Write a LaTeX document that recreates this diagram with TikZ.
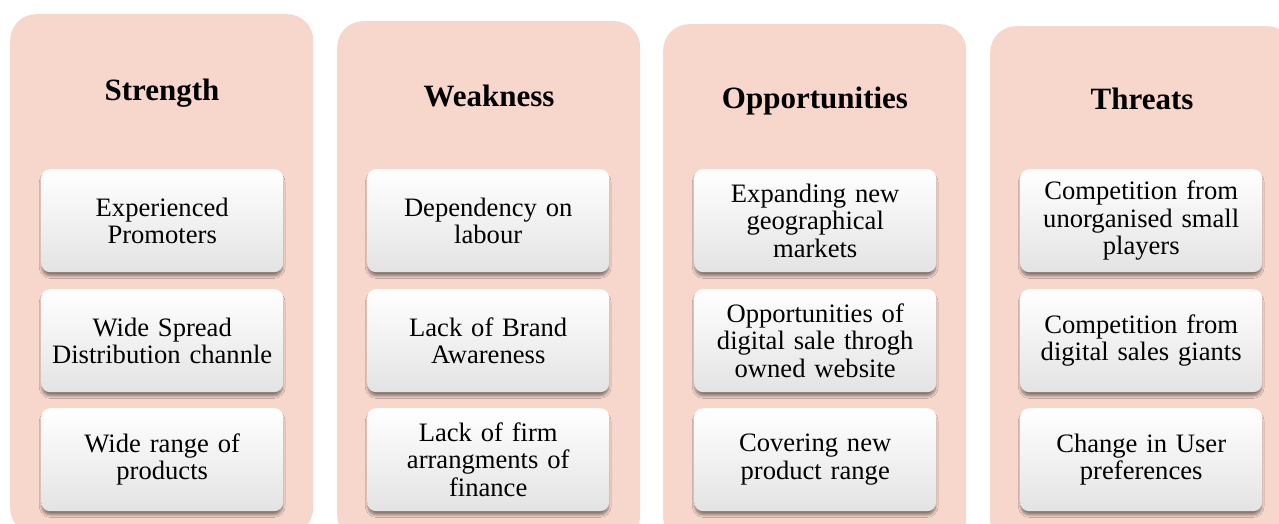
\documentclass[tikz,border=0pt]{standalone}
\usepackage{fontspec}
\setmainfont{Liberation Serif}
\usetikzlibrary{shadows.blur}
\definecolor{panelpink}{HTML}{F7D6CC}
\tikzset{
  x=1pt, y=-1pt,
  panel/.style={fill=panelpink, rounded corners=26pt, draw=none,
    minimum width=303pt, minimum height=520pt, anchor=north west, inner sep=0pt},
  ttl/.style={anchor=base, inner sep=0pt, font=\fontsize{31}{36}\selectfont\bfseries},
  itembox/.style={rounded corners=9pt, minimum width=242pt, minimum height=103pt,
    anchor=north west, inner sep=2pt, align=center, text width=236pt,
    top color=white, middle color=white, bottom color=black!11,
    blur shadow={shadow xshift=0pt, shadow yshift=-4pt, shadow blur radius=2.5pt, shadow opacity=45, shadow blur steps=8, shadow scale=0.995},
    font=\fontsize{26.6}{27.5}\selectfont},
}
\begin{document}
\begin{tikzpicture}
\useasboundingbox (0,0) rectangle (1279,524);
\clip (0,0) rectangle (1279,524);
\fill[white] (0,0) rectangle (1279,524);
% panels
\node[panel] (p1) at (10,14) {};
\node[panel] (p2) at (337,21) {};
\node[panel] (p3) at (663,24) {};
\node[panel] (p4) at (990,26) {};
% titles
\node[ttl] (t1) at (162,101) {Strength};
\node[ttl] (t2) at (489,107) {Weakness};
\node[ttl] (t3) at (815,109) {Opportunities};
\node[ttl] (t4) at (1142,110) {Threats};
% column 1
\node[itembox] (s1) at (41,169) {Experienced\\Promoters};
\node[itembox] (s2) at (41,289) {Wide Spread\\Distribution channle};
\node[itembox] (s3) at (41,408) {Wide range of\\products};
% column 2
\node[itembox] (w1) at (367,169) {Dependency on\\labour};
\node[itembox] (w2) at (367,289) {Lack of Brand\\Awareness};
\node[itembox] (w3) at (367,408) {Lack of firm\\arrangments of\\finance};
% column 3
\node[itembox] (o1) at (694,169) {Expanding new\\geographical\\markets};
\node[itembox] (o2) at (694,289) {Opportunities of\\digital sale throgh\\owned website};
\node[itembox] (o3) at (694,408) {Covering new\\product range};
% column 4
\node[itembox] (h1) at (1020,169) {Competition from\\unorganised small\\players};
\node[itembox] (h2) at (1020,289) {Competition from\\digital sales giants};
\node[itembox] (h3) at (1020,408) {Change in User\\preferences};
\end{tikzpicture}
\end{document}
